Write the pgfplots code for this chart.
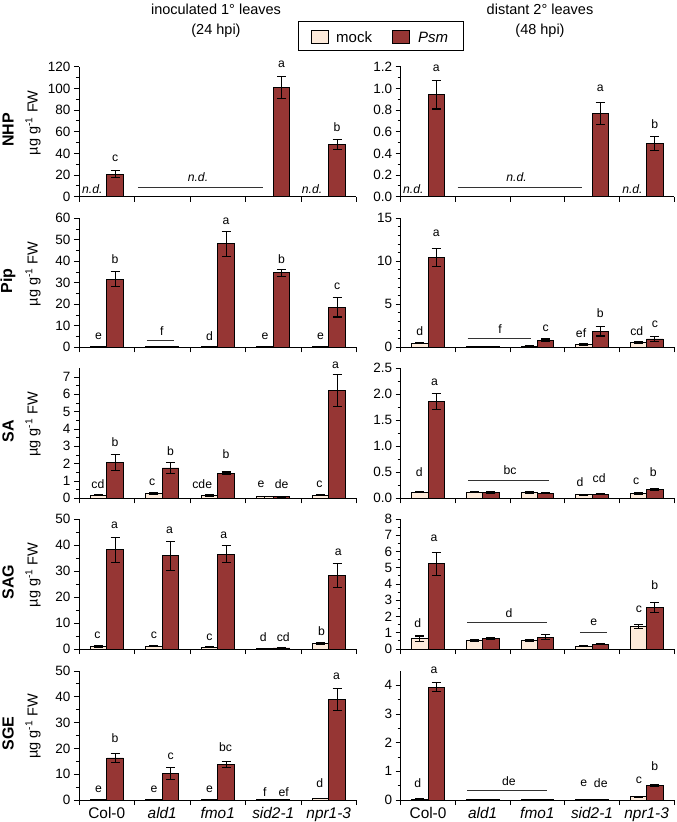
\documentclass[border=0pt]{standalone}
\usepackage{pgfplots}
\pgfplotsset{compat=1.18}
\usepackage{fontspec}
\setmainfont{Liberation Sans}
\definecolor{mockc}{RGB}{253,234,218}
\definecolor{psmc}{RGB}{150,54,52}
\newcommand{\ticksize}{\fontsize{13.5}{15}\selectfont}
\newcommand{\lblsize}{\fontsize{12.2}{14}\selectfont}
\newcommand{\catsize}{\fontsize{15.4}{17}\selectfont}
\newcommand{\titsize}{\fontsize{14.5}{16}\selectfont}
\pgfplotsset{
  panel/.style={
    scale only axis, anchor=south west, clip=false,
    xmin=-0.5, xmax=4.5, ymin=0,
    xtick={-0.5,0.5,1.5,2.5,3.5,4.5}, xticklabels={},
    minor x tick num=0, minor y tick num=1,
    axis x line*=bottom, axis y line*=left,
    tick align=outside,
    major tick length=5pt, minor tick length=3pt,
    tick style={black, line width=0.9pt},
    axis line style={black, line width=0.9pt},
    scaled y ticks=false,
    yticklabel style={font=\ticksize, /pgf/number format/assume math mode=true, /pgf/number format/fixed},
  },
  L/.style={panel, width=277.5pt},
  R/.style={panel, width=273.3pt},
  barbase/.style={ybar, bar width=0.3, bar shift=0pt, draw=black, line width=0.9pt,
     error bars/y dir=both, error bars/y explicit,
     error bars/error bar style={line width=1.1pt, black},
     error bars/error mark options={rotate=90, mark size=4.5pt, line width=1.1pt, black}},
  mockbar/.style={fill=mockc, barbase},
  psmbar/.style={fill=psmc, barbase},
  sigline/.style={black!80, line width=0.8pt, mark=none, forget plot},
}
\tikzset{lbl/.style={font=\lblsize, inner sep=0pt, anchor=center},
  nd/.style={font=\lblsize\itshape, inner sep=0pt, anchor=center}}
\newcommand{\lb}[3]{\node[lbl, yshift=#2pt] at (axis cs:#1,0) {#3};}
\begin{document}
\begin{tikzpicture}
\useasboundingbox (0,0) rectangle (677pt,-822pt);
% titles
\node[font=\titsize, anchor=base] at (216pt,-14pt) {inoculated 1° leaves};
\node[font=\titsize, anchor=base] at (216pt,-34pt) {(24 hpi)};
\node[font=\titsize, anchor=base] at (540pt,-14pt) {distant 2° leaves};
\node[font=\titsize, anchor=base] at (540pt,-34pt) {(48 hpi)};
% legend
\draw[line width=0.9pt, fill=white] (298pt,-21pt) rectangle (463pt,-50pt);
\draw[line width=0.9pt, fill=mockc] (311pt,-30pt) rectangle (328pt,-43.5pt);
\node[anchor=base west, inner sep=0pt, font=\fontsize{15}{17}\selectfont] at (336pt,-42pt) {mock};
\draw[line width=0.9pt, fill=psmc] (392pt,-30pt) rectangle (409pt,-43.5pt);
\node[anchor=base west, inner sep=0pt, font=\fontsize{15}{17}\selectfont\itshape] at (418pt,-42pt) {Psm};
% row labels
\foreach \yc/\nm in {131.7/NHP, 282.8/Pip, 433.3/SA, 584/SAG, 735.5/SGE}{
  \node[rotate=90, font=\bfseries\fontsize{16}{18}\selectfont] at (8pt,-\yc pt+2pt) {\nm};
  \node[rotate=90, font=\fontsize{14.5}{16}\selectfont] at (33pt,-\yc pt+9pt) {µg g\textsuperscript{-1} FW};
}
%================ NHP left
\begin{axis}[L, at={(79pt,-196.7pt)}, height=130pt, ymax=120, ytick={0,20,...,120}]
\addplot[psmbar] coordinates {(0.15,20.6) +- (0,3.2) (3.15,101) +- (0,10) (4.15,48) +- (0,4.6)};
\addplot[sigline] coordinates {(0.56,8.7) (2.82,8.7)};
\node[nd, yshift=7.7pt] at (axis cs:-0.26,0) {n.d.};
\node[nd, yshift=7.7pt] at (axis cs:3.70,0) {n.d.};
\node[nd, yshift=20pt] at (axis cs:1.644,0) {n.d.};
\lb{0.15}{38.4}{c}\lb{3.15}{132.7}{a}\lb{4.15}{69.4}{b}
\end{axis}
%================ NHP right
\begin{axis}[R, at={(400.7pt,-196.7pt)}, height=130pt, ymax=1.2, ytick={0,0.2,...,1.2},
  yticklabel style={/pgf/number format/fixed zerofill, /pgf/number format/precision=1}]
\addplot[psmbar] coordinates {(0.15,0.94) +- (0,0.13) (3.15,0.77) +- (0,0.10) (4.15,0.49) +- (0,0.065)};
\addplot[sigline] coordinates {(0.54,0.087) (2.82,0.087)};
\node[nd, yshift=7.7pt] at (axis cs:-0.27,0) {n.d.};
\node[nd, yshift=7.7pt] at (axis cs:3.74,0) {n.d.};
\node[nd, yshift=20pt] at (axis cs:1.62,0) {n.d.};
\lb{0.15}{128.4}{a}\lb{3.15}{108.4}{a}\lb{4.15}{72.4}{b}
\end{axis}
%================ Pip left
\begin{axis}[L, at={(79pt,-347.3pt)}, height=129pt, ymax=60, ytick={0,10,...,60}]
\addplot[mockbar] coordinates {(-0.15,0.3) +- (0,0.05) (0.85,0.2) +- (0,0.03) (1.85,0.3) +- (0,0.05) (2.85,0.3) +- (0,0.05) (3.85,0.3) +- (0,0.05)};
\addplot[psmbar] coordinates {(0.15,31.6) +- (0,3.5) (1.15,0.2) +- (0,0.03) (2.15,48.2) +- (0,5.8) (3.15,34.6) +- (0,1.6) (4.15,18.6) +- (0,4.5)};
\addplot[sigline] coordinates {(0.72,3.07) (1.22,3.07)};
\lb{-0.15}{11.3}{e}\lb{0.15}{88}{b}\lb{0.99}{16.6}{f}\lb{1.85}{11.3}{d}\lb{2.15}{125.6}{a}
\lb{2.85}{11.3}{e}\lb{3.15}{88}{b}\lb{3.85}{11.3}{e}\lb{4.15}{60.6}{c}
\end{axis}
%================ Pip right
\begin{axis}[R, at={(400.7pt,-347.3pt)}, height=129pt, ymax=15, ytick={0,5,10,15}, minor y tick num=4]
\addplot[mockbar] coordinates {(-0.15,0.5) +- (0,0.06) (0.85,0.1) +- (0,0.02) (1.85,0.15) +- (0,0.03) (2.85,0.3) +- (0,0.1) (3.85,0.58) +- (0,0.12)};
\addplot[psmbar] coordinates {(0.15,10.45) +- (0,1.05) (1.15,0.1) +- (0,0.02) (2.15,0.81) +- (0,0.15) (3.15,1.86) +- (0,0.55) (4.15,0.97) +- (0,0.33)};
\addplot[sigline] coordinates {(0.725,1.05) (1.88,1.05)};
\lb{-0.15}{16.3}{d}\lb{0.15}{113.7}{a}\lb{1.32}{18.7}{f}\lb{2.15}{18.7}{c}
\lb{2.8}{13.7}{ef}\lb{3.15}{34.3}{b}\lb{3.82}{16.3}{cd}\lb{4.15}{22.7}{c}
\end{axis}
%================ SA left
\begin{axis}[L, at={(79pt,-498.3pt)}, height=130pt, ymax=7.5, ytick={0,1,...,7}]
\addplot[mockbar] coordinates {(-0.15,0.17) +- (0,0.03) (0.85,0.27) +- (0,0.05) (1.85,0.15) +- (0,0.05) (2.85,0.1) +- (0,0.02) (3.85,0.18) +- (0,0.03)};
\addplot[psmbar] coordinates {(0.15,2.06) +- (0,0.46) (1.15,1.75) +- (0,0.3) (2.15,1.45) +- (0,0.07) (3.15,0.08) +- (0,0.01) (4.15,6.22) +- (0,0.93)};
\lb{-0.16}{14}{cd}\lb{0.15}{56.6}{b}\lb{0.82}{16.3}{c}\lb{1.15}{47.6}{b}\lb{1.72}{14}{cde}
\lb{2.15}{44}{b}\lb{2.78}{14}{e}\lb{3.15}{14}{de}\lb{3.83}{14}{c}\lb{4.12}{133.3}{a}
\end{axis}
%================ SA right
\begin{axis}[R, at={(400.7pt,-498.3pt)}, height=130pt, ymax=2.5, ytick={0,0.5,...,2.5},
  yticklabel style={/pgf/number format/fixed zerofill, /pgf/number format/precision=1}]
\addplot[mockbar] coordinates {(-0.15,0.115) +- (0,0.01) (0.85,0.12) +- (0,0.015) (1.85,0.11) +- (0,0.015) (2.85,0.065) +- (0,0.005) (3.85,0.095) +- (0,0.015)};
\addplot[psmbar] coordinates {(0.15,1.865) +- (0,0.15) (1.15,0.11) +- (0,0.015) (2.15,0.10) +- (0,0.01) (3.15,0.08) +- (0,0.01) (4.15,0.17) +- (0,0.02)};
\addplot[sigline] coordinates {(0.73,0.352) (2.21,0.352)};
\lb{-0.16}{26.6}{d}\lb{0.12}{115.6}{a}\lb{1.5}{28.3}{bc}\lb{2.78}{16.6}{d}
\lb{3.13}{20}{cd}\lb{3.81}{17.3}{c}\lb{4.12}{26}{b}
\end{axis}
%================ SAG left
\begin{axis}[L, at={(79pt,-649pt)}, height=130pt, ymax=50, ytick={0,10,...,50}]
\addplot[mockbar] coordinates {(-0.15,0.9) +- (0,0.3) (0.85,1.0) +- (0,0.2) (1.85,0.7) +- (0,0.2) (2.85,0.2) +- (0,0.05) (3.85,2.2) +- (0,0.4)};
\addplot[psmbar] coordinates {(0.15,38.1) +- (0,4.9) (1.15,35.9) +- (0,5.6) (2.15,36.5) +- (0,3.2) (3.15,0.4) +- (0,0.1) (4.15,28.3) +- (0,4.7)};
\lb{-0.17}{14}{c}\lb{0.14}{124}{a}\lb{0.85}{14}{c}\lb{1.13}{118.3}{a}\lb{1.85}{11.7}{c}
\lb{2.11}{114}{a}\lb{2.82}{11.7}{d}\lb{3.18}{11.7}{cd}\lb{3.87}{18.3}{b}\lb{4.17}{96.3}{a}
\end{axis}
%================ SAG right
\begin{axis}[R, at={(400.7pt,-649pt)}, height=130pt, ymax=8, ytick={0,1,...,8}]
\addplot[mockbar] coordinates {(-0.15,0.63) +- (0,0.17) (0.85,0.55) +- (0,0.06) (1.85,0.52) +- (0,0.06) (2.85,0.18) +- (0,0.02) (3.85,1.37) +- (0,0.13)};
\addplot[psmbar] coordinates {(0.15,5.25) +- (0,0.7) (1.15,0.66) +- (0,0.06) (2.15,0.72) +- (0,0.16) (3.15,0.3) +- (0,0.05) (4.15,2.57) +- (0,0.3)};
\addplot[sigline] coordinates {(0.72,1.62) (2.17,1.62)};
\addplot[sigline] coordinates {(2.78,1.05) (3.27,1.05)};
\lb{-0.19}{26.3}{d}\lb{0.11}{110.7}{a}\lb{1.48}{36.3}{d}\lb{3.03}{26.3}{e}
\lb{3.86}{39.7}{c}\lb{4.15}{64}{b}
\end{axis}
%================ SGE left
\begin{axis}[L, at={(79pt,-800pt)}, height=129pt, ymax=50, ytick={0,10,...,50}]
\addplot[mockbar] coordinates {(-0.15,0.15) +- (0,0.03) (0.85,0.15) +- (0,0.03) (1.85,0.15) +- (0,0.03) (2.85,0.05) +- (0,0.01) (3.85,0.6) +- (0,0.15)};
\addplot[psmbar] coordinates {(0.15,16.3) +- (0,1.6) (1.15,10.2) +- (0,2.3) (2.15,13.7) +- (0,1.1) (3.15,0.1) +- (0,0.02) (4.15,39.0) +- (0,4.3)};
\lb{-0.15}{10.7}{e}\lb{0.15}{61.7}{b}\lb{0.85}{10.7}{e}\lb{1.15}{43.3}{c}\lb{1.85}{10.7}{e}
\lb{2.14}{52.7}{bc}\lb{2.85}{8.3}{f}\lb{3.19}{8.3}{ef}\lb{3.84}{16.7}{d}\lb{4.14}{124}{a}
\node[font=\catsize, anchor=base, yshift=-18.5pt] at (axis cs:0,0) {Col-0};
\node[font=\catsize\itshape, anchor=base, yshift=-18.5pt] at (axis cs:1,0) {ald1};
\node[font=\catsize\itshape, anchor=base, yshift=-18.5pt] at (axis cs:2,0) {fmo1};
\node[font=\catsize\itshape, anchor=base, yshift=-18.5pt] at (axis cs:3,0) {sid2-1};
\node[font=\catsize\itshape, anchor=base, yshift=-18.5pt] at (axis cs:4,0) {npr1-3};
\end{axis}
%================ SGE right
\begin{axis}[R, at={(400.7pt,-800pt)}, height=129pt, ymax=4.5, ytick={0,1,...,4}]
\addplot[mockbar] coordinates {(-0.15,0.03) +- (0,0.005) (0.85,0.02) +- (0,0.004) (1.85,0.02) +- (0,0.004) (2.85,0.01) +- (0,0.003) (3.85,0.11) +- (0,0.01)};
\addplot[psmbar] coordinates {(0.15,3.93) +- (0,0.16) (1.15,0.02) +- (0,0.004) (2.15,0.02) +- (0,0.004) (3.15,0.01) +- (0,0.003) (4.15,0.51) +- (0,0.02)};
\addplot[sigline] coordinates {(0.72,0.323) (2.18,0.323)};
\lb{-0.19}{16.7}{d}\lb{0.11}{129.3}{a}\lb{1.48}{19.3}{de}\lb{2.85}{16.7}{e}
\lb{3.16}{16.7}{de}\lb{3.86}{20}{c}\lb{4.15}{34}{b}
\node[font=\catsize, anchor=base, yshift=-18.5pt] at (axis cs:0,0) {Col-0};
\node[font=\catsize\itshape, anchor=base, yshift=-18.5pt] at (axis cs:1,0) {ald1};
\node[font=\catsize\itshape, anchor=base, yshift=-18.5pt] at (axis cs:2,0) {fmo1};
\node[font=\catsize\itshape, anchor=base, yshift=-18.5pt] at (axis cs:3,0) {sid2-1};
\node[font=\catsize\itshape, anchor=base, yshift=-18.5pt] at (axis cs:4,0) {npr1-3};
\end{axis}
\end{tikzpicture}
\end{document}
